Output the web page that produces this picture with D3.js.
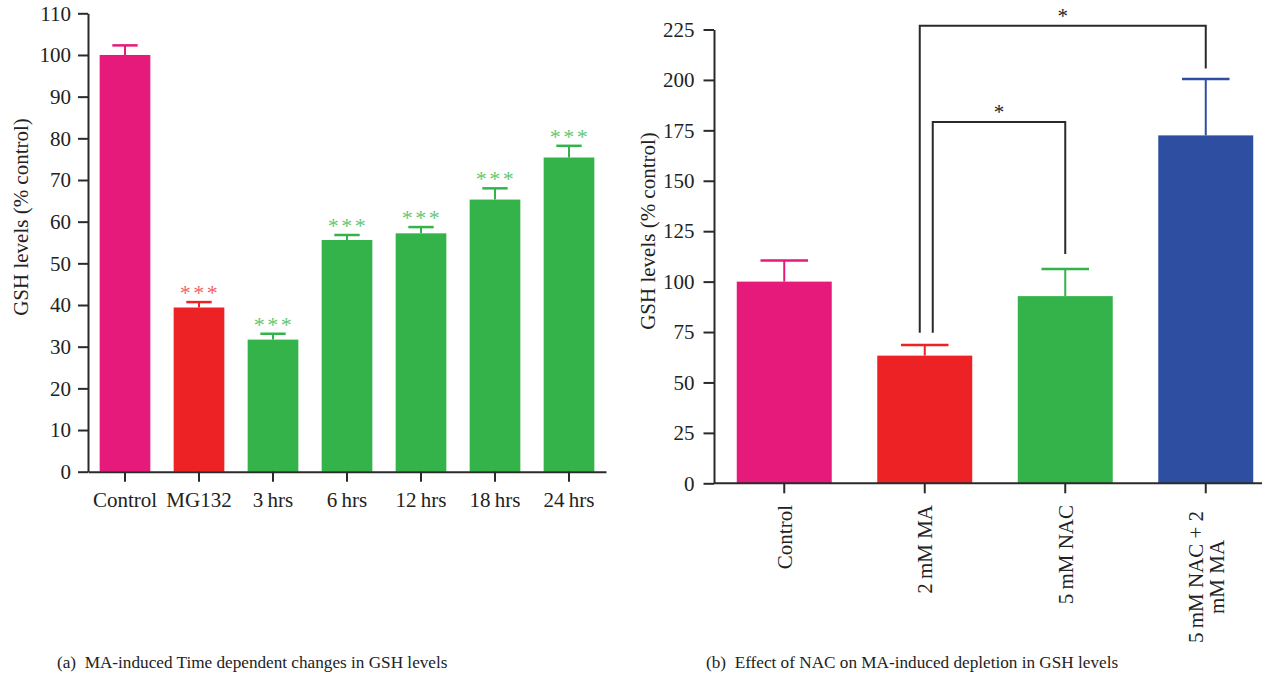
<html>
<head>
<script src="https://cdn.jsdelivr.net/npm/d3@7"></script>
<style>
  body { margin: 0; background: #fff; }
  text { font-family: "Liberation Serif", "Times New Roman", serif; fill: #222; }
</style>
</head>
<body>
<div id="chart"></div>
<script>
// panel (a) data
const leftCats = ["Control", "MG132", "3\u2009hrs", "6\u2009hrs", "12\u2009hrs", "18\u2009hrs", "24\u2009hrs"];
const leftVals = [100, 39.4, 31.7, 55.6, 57.2, 65.3, 75.4];
const leftErr = [2.3, 1.3, 1.4, 1.2, 1.5, 2.7, 2.8];
const leftStars = ["", "***", "***", "***", "***", "***", "***"];
const leftColors = ["#e61a7b", "#ed2224", "#33b34a", "#33b34a", "#33b34a", "#33b34a", "#33b34a"];
const leftStarColors = ["", "#f26464", "#62c873", "#62c873", "#62c873", "#62c873", "#62c873"];
const leftTicks = [0, 10, 20, 30, 40, 50, 60, 70, 80, 90, 100, 110];

// panel (b) data
const rightCats = ["Control", "2\u2009mM MA", "5\u2009mM NAC", "5\u2009mM NAC + 2|mM MA"];
const rightVals = [100, 63.3, 92.8, 172.5];
const rightErr = [10.5, 5.3, 13.4, 28];
const rightColors = ["#e61a7b", "#ed2224", "#33b34a", "#2e4fa1"];
const rightTicks = [0, 25, 50, 75, 100, 125, 150, 175, 200, 225];
// significance brackets: from / to category index, bar level, end levels
const brackets = [
  {from: 1, to: 3, top: 226.8, endFrom: 74.7, endTo: 205.7, dx: -5, label: "*"},
  {from: 1, to: 2, top: 179.1, endFrom: 74.7, endTo: 113.7, dx: 8, label: "*"}
];

const svg = d3.select('#chart').append('svg')
    .attr('width', 1275)
    .attr('height', 676);

const axisColor = "#2a2a2a";

function styleAxis(g) {
    g.selectAll('path, line').attr('stroke', axisColor).attr('stroke-width', 2);
    g.selectAll('text').attr('fill', '#222');
}

// ---------- panel (a) ----------
const xL = d3.scaleBand().domain(leftCats).range([88, 606])
    .paddingInner(0.315).paddingOuter(0.1575);
const yL = d3.scaleLinear().domain([0, 110]).range([471.7, 13.3]);

const gL = svg.append('g');

gL.selectAll('.barL')
    .data(leftVals)
    .enter().append('rect')
        .attr('x', (d, i) => xL(leftCats[i]))
        .attr('y', d => yL(d))
        .attr('width', xL.bandwidth())
        .attr('height', d => yL(0) - yL(d))
        .attr('fill', (d, i) => leftColors[i]);

gL.selectAll('.errL')
    .data(leftVals)
    .enter().append('line')
        .attr('x1', (d, i) => xL(leftCats[i]) + xL.bandwidth() / 2)
        .attr('x2', (d, i) => xL(leftCats[i]) + xL.bandwidth() / 2)
        .attr('y1', d => yL(d))
        .attr('y2', (d, i) => yL(d + leftErr[i]))
        .attr('stroke', (d, i) => leftColors[i])
        .attr('stroke-width', 2);

gL.selectAll('.capL')
    .data(leftVals)
    .enter().append('line')
        .attr('x1', (d, i) => xL(leftCats[i]) + xL.bandwidth() / 4)
        .attr('x2', (d, i) => xL(leftCats[i]) + xL.bandwidth() * 3 / 4)
        .attr('y1', (d, i) => yL(d + leftErr[i]))
        .attr('y2', (d, i) => yL(d + leftErr[i]))
        .attr('stroke', (d, i) => leftColors[i])
        .attr('stroke-width', 2.5);

gL.selectAll('.starL')
    .data(leftVals)
    .enter().append('text')
        .attr('x', (d, i) => xL(leftCats[i]) + xL.bandwidth() / 2 + 1)
        .attr('y', (d, i) => yL(d + leftErr[i]) - 2)
        .attr('text-anchor', 'middle')
        .style('font-size', '22px')
        .style('letter-spacing', '2.5px')
        .style('fill', (d, i) => leftStarColors[i])
        .text((d, i) => leftStars[i]);

gL.append('g')
    .attr('transform', 'translate(88,0)')
    .call(d3.axisLeft(yL).tickValues(leftTicks).tickSize(10).tickSizeOuter(0).tickPadding(7))
    .call(styleAxis)
    .selectAll('text').style('font-size', '21px');

gL.append('g')
    .attr('transform', `translate(0,${yL(0)})`)
    .call(d3.axisBottom(xL).tickSize(10).tickSizeOuter(0).tickPadding(10))
    .call(styleAxis)
    .selectAll('text').style('font-size', '21px');

gL.append('text')
    .attr('transform', 'translate(21,217) rotate(-90)')
    .attr('text-anchor', 'middle')
    .attr('dy', '0.35em')
    .style('font-size', '21px')
    .text('GSH levels (% control)');

svg.append('text')
    .attr('x', 57)
    .attr('y', 668)
    .style('font-size', '17.2px')
    .attr('xml:space', 'preserve')
    .text('(a)  MA-induced Time dependent changes in GSH levels');

// ---------- panel (b) ----------
const xR = d3.scaleBand().domain(rightCats).range([714, 1276])
    .paddingInner(0.324).paddingOuter(0.162);
const yR = d3.scaleLinear().domain([0, 225]).range([483.3, 29.5]);
const cx = i => xR(rightCats[i]) + xR.bandwidth() / 2;

const gR = svg.append('g');

gR.selectAll('.barR')
    .data(rightVals)
    .enter().append('rect')
        .attr('x', (d, i) => xR(rightCats[i]))
        .attr('y', d => yR(d))
        .attr('width', xR.bandwidth())
        .attr('height', d => yR(0) - yR(d))
        .attr('fill', (d, i) => rightColors[i]);

gR.selectAll('.errR')
    .data(rightVals)
    .enter().append('line')
        .attr('x1', (d, i) => cx(i))
        .attr('x2', (d, i) => cx(i))
        .attr('y1', d => yR(d))
        .attr('y2', (d, i) => yR(d + rightErr[i]))
        .attr('stroke', (d, i) => rightColors[i])
        .attr('stroke-width', 2);

gR.selectAll('.capR')
    .data(rightVals)
    .enter().append('line')
        .attr('x1', (d, i) => cx(i) - xR.bandwidth() / 4)
        .attr('x2', (d, i) => cx(i) + xR.bandwidth() / 4)
        .attr('y1', (d, i) => yR(d + rightErr[i]))
        .attr('y2', (d, i) => yR(d + rightErr[i]))
        .attr('stroke', (d, i) => rightColors[i])
        .attr('stroke-width', 2.5);

// brackets
gR.selectAll('.bracket')
    .data(brackets)
    .enter().append('path')
        .attr('fill', 'none')
        .attr('stroke', axisColor)
        .attr('stroke-width', 2)
        .attr('d', d => {
            const x1 = cx(d.from) + d.dx, x2 = cx(d.to);
            return `M${x1},${yR(d.endFrom)}V${yR(d.top)}H${x2}V${yR(d.endTo)}`;
        });

gR.selectAll('.bstar')
    .data(brackets)
    .enter().append('text')
        .attr('x', d => (cx(d.from) + d.dx + cx(d.to)) / 2)
        .attr('y', d => yR(d.top) - 3)
        .attr('text-anchor', 'middle')
        .style('font-size', '21px')
        .text(d => d.label);

gR.append('g')
    .attr('transform', 'translate(714,0)')
    .call(d3.axisLeft(yR).tickValues(rightTicks).tickSize(10.5).tickSizeOuter(0).tickPadding(9))
    .call(styleAxis)
    .selectAll('text').style('font-size', '21px');

const xAxisR = gR.append('g')
    .attr('transform', `translate(0,${yR(0)})`)
    .call(d3.axisBottom(xR).tickSize(10).tickSizeOuter(0).tickFormat(''))
    .call(styleAxis);
xAxisR.select('.domain').remove();
xAxisR.append('line')
    .attr('x1', 714).attr('x2', 1262)
    .attr('stroke', axisColor).attr('stroke-width', 2);

// rotated category labels
rightCats.forEach((c, i) => {
    const lines = c.split('|');
    if (lines.length === 1) {
        gR.append('text')
            .attr('transform', `translate(${cx(i)},505) rotate(-90)`)
            .attr('text-anchor', 'end')
            .attr('dy', '0.35em')
            .style('font-size', '21px')
            .text(c);
    } else {
        const t = gR.append('text')
            .attr('transform', `translate(${cx(i)},577) rotate(-90)`)
            .attr('text-anchor', 'middle')
            .style('font-size', '21px');
        lines.forEach((l, j) => {
            t.append('tspan')
                .attr('x', 0)
                .attr('y', (j - (lines.length - 1) / 2) * 21)
                .attr('dy', '0.35em')
                .text(l);
        });
    }
});

gR.append('text')
    .attr('transform', 'translate(648,231) rotate(-90)')
    .attr('text-anchor', 'middle')
    .attr('dy', '0.35em')
    .style('font-size', '21px')
    .text('GSH levels (% control)');

svg.append('text')
    .attr('x', 706)
    .attr('y', 668)
    .style('font-size', '17.2px')
    .attr('xml:space', 'preserve')
    .text('(b)  Effect of NAC on MA-induced depletion in GSH levels');
</script>
</body>
</html>
